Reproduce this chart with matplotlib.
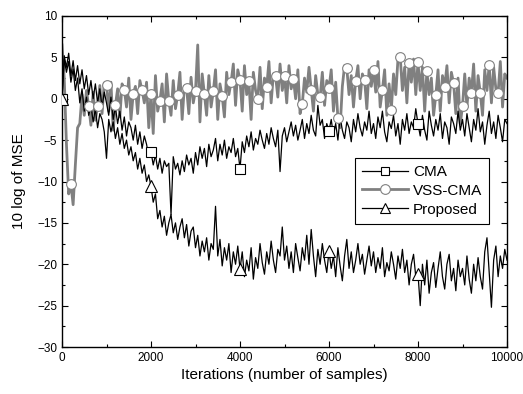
import numpy as np
import matplotlib
matplotlib.use("Agg")
import matplotlib.pyplot as plt
from matplotlib.ticker import MultipleLocator

plt.rcParams['font.family'] = ['Liberation Sans', 'DejaVu Sans']

step = 50
samples = np.arange(0, 10001, step)

vss_cma = [
    6.5, 2.5, -5.5, -11.5, -10.3, -12.8, -8.0, -3.5, -3.0, 0.5, -2.0, 1.0, -0.93, -3.2, 0.8, -2.6, -0.85, 1.6, -1.8, 1.9,
    1.7, -1.5, 2.0, -3.8, -0.8, 1.2, -2.2, 1.8, 1.09, -1.0, 2.5, -2.5, 0.57, 1.5, -1.8, 2.2, 1.0, -0.5, 2.0, -3.5,
    0.6, -4.2, 2.8, -1.5, -0.24, 1.8, -2.8, 3.0, -0.24, -2.0, 2.2, -1.2, 0.48, 3.2, -2.5, 1.5, 1.29, -1.8, 2.6, -0.5,
    0.97, 6.5, -2.8, 3.0, 0.57, -2.0, 2.8, -1.0, 0.88, 3.5, -2.5, 1.8, 0.28, -2.2, 3.2, 0.5, 2.0, 4.2, -0.8, 3.5,
    2.3, -1.5, 4.0, 0.5, 2.1, -2.5, 3.2, 1.0, 0.0, 3.8, -1.2, 2.5, 1.41, 4.5, -0.5, 3.0, 2.7, 0.2, 4.2, 1.0,
    2.78, -0.5, 4.0, 1.2, 2.42, 0.0, 3.5, -1.8, -0.6, 2.5, 0.8, 3.8, 1.09, -1.5, 2.8, 0.5, 0.16, 3.2, -0.8, 2.2,
    1.29, 3.5, -1.5, 2.0, -2.33, -3.5, 1.5, 4.0, 3.7, 0.5, 2.8, -1.0, 2.18, 4.0, 0.0, 3.0, 2.3, -1.2, 3.5, 1.5,
    3.5, 0.8, 4.5, -1.0, 1.09, 3.5, -2.0, 1.8, -1.33, 3.0, 0.5, 4.8, 5.1, 1.0, 3.8, -0.5, 4.3, 2.0, 4.8, 0.5,
    4.39, 1.0, 3.8, -1.5, 3.3, 0.5, 2.5, -2.0, 0.4, 3.5, -1.5, 2.8, 1.41, 4.0, -0.5, 3.2, 1.9, -1.8, 2.5, -3.0,
    -0.93, 3.0, -1.0, 2.5, 0.69, 4.2, -1.5, 2.8, 0.69, -2.0, 3.5, 1.0, 4.1, -0.5, 3.8, 1.2, 0.69, 4.5, -1.0, 3.0, 2.5,
]

cma = [
    0.0, 5.2, 3.8, 5.5, 2.8, 4.6, 2.2, 4.0, 1.8, 3.5, 1.2, 2.8, 0.5, 2.2, 0.0, 1.8, -0.5, 1.2, -1.0, 0.8,
    -0.5, -2.0, 0.2, -2.5, -1.0, -3.0, -1.5, -3.8, -2.2, -4.5, -2.8, -3.5, -5.0, -3.2, -5.5, -4.0, -6.0, -4.5, -5.5, -7.0,
    -6.4, -8.0, -6.8, -8.5, -7.2, -9.0, -7.5, -8.2, -7.8, -14.0, -7.0, -8.5, -7.8, -9.2, -7.5, -8.8, -6.8, -8.0, -7.2, -9.0,
    -6.5, -8.0, -5.8, -7.2, -6.0, -8.2, -5.5, -7.0, -6.2, -4.8, -7.5, -5.5, -6.8, -5.0, -7.2, -5.8, -6.5, -4.8, -7.0, -6.0,
    -8.5, -5.2, -6.5, -4.5, -5.8, -4.0, -6.2, -4.8, -5.5, -3.8, -5.0, -6.0, -4.2, -5.5, -3.5, -4.8, -5.8, -3.8, -8.8, -4.5,
    -3.5, -5.2, -4.0, -2.8, -4.5, -3.2, -5.0, -3.8, -2.5, -4.8, -3.0, -4.2, -2.0, -3.8, -4.5, -0.8, -3.2, -2.5, -4.8, -3.0,
    -3.87, -2.5, -4.5, -3.0, -5.0, -2.2, -3.8, -4.8, -2.8, -3.5, -5.2, -2.5, -4.0, -1.8, -3.5, -4.5, -2.8, -3.8, -1.5, -4.2,
    -3.0, -4.8, -2.2, -3.5, -1.5, -4.0, -5.2, -2.8, -3.6, -2.0, -4.5, -3.0, -5.5, -2.5, -3.8, -1.8, -4.2, -2.8, -3.5, -1.2,
    -3.06, -4.5, -2.0, -3.8, -5.0, -1.5, -3.2, -4.5, -2.5, -3.8, -1.8, -4.8, -2.8, -3.5, -5.5, -2.2, -3.0, -4.2, -1.5, -3.8,
    -2.5, -4.5, -1.8, -3.5, -5.2, -2.5, -3.8, -1.2, -4.0, -2.8, -5.5, -3.2, -1.5, -4.2, -2.8, -4.8, -2.0, -3.5, -5.2, -2.5, -3.0,
]

proposed = [
    0.0, 4.8, 3.2, 4.5, 2.0, 3.6, 1.0, 2.5, -0.5, 1.2, -1.5, 0.2, -2.0, -0.8, -2.8, -1.2, -3.5, -1.8, -2.5, -4.0,
    -7.2, -2.5, -4.0, -2.8, -4.8, -3.5, -5.5, -4.2, -6.0, -5.0, -6.8, -5.8, -7.5, -6.5, -8.5, -7.2, -9.0, -8.0, -10.0, -9.2,
    -10.6, -12.5, -11.5, -14.5, -13.5, -15.5, -14.2, -16.5, -15.0, -14.0, -16.2, -15.0, -17.0, -15.5, -14.5, -16.8, -15.2, -17.8, -16.0, -15.5,
    -18.0, -16.5, -19.0, -17.2, -18.5, -16.8, -19.5, -17.5, -18.2, -13.0, -19.0, -17.0, -20.2, -18.0, -19.5, -17.5, -21.0, -18.5, -20.0, -17.8,
    -20.6, -18.5, -21.5, -19.5, -20.8, -18.0, -21.8, -19.2, -20.5, -17.5, -19.8, -21.2, -18.5, -20.0, -17.2, -19.5, -21.0, -18.2, -19.0, -15.5,
    -19.5, -17.8, -20.5, -18.5, -21.0, -17.5, -19.2, -20.8, -18.0, -19.5, -16.5, -20.0, -15.8, -19.0, -21.5, -18.2, -20.0, -17.5, -19.5, -21.0,
    -18.4, -20.5, -19.0, -21.5, -18.0, -20.2, -22.0, -19.0, -17.0, -20.5, -18.5, -21.0, -19.5, -17.5, -20.0, -18.8, -21.2, -19.5, -17.8, -20.2,
    -18.5, -21.0, -19.2, -20.5, -18.0, -21.5, -19.8, -20.8, -18.5, -20.0, -21.8, -19.0, -20.5, -18.2, -21.0, -19.5, -22.5, -20.0, -18.8, -21.5,
    -21.2, -25.0, -20.0, -22.5, -19.5, -23.5, -21.0, -19.8, -22.8, -20.5, -18.5, -21.5, -23.0, -20.0, -18.8, -22.0, -20.5, -23.2, -19.5, -21.5,
    -20.5, -22.5, -19.0, -21.8, -23.5, -20.0, -22.0, -19.2, -21.5, -23.0, -18.5, -16.8, -21.0, -25.2, -19.5, -17.8, -21.5, -19.0, -20.5, -18.2, -19.5,
]

labels = ['CMA', 'VSS-CMA', 'Proposed']

# marker positions (indices)
mark_sq = [0, 40, 80, 120, 160]
mark_tri = [0, 40, 80, 120, 160]
mark_circ = [4] + list(range(12, 197, 4))

gray = '#808080'

fig = plt.figure(figsize=(5.23, 3.94), dpi=100)
ax = fig.add_axes([62/523, 1-347/394, 445/523, 331/394])

x = samples
ax.plot(x, vss_cma, color=gray, lw=2.0, zorder=2)
ax.plot(x, cma, color='black', lw=0.9, zorder=3)
ax.plot(x, proposed, color='black', lw=0.9, zorder=3)

ax.plot(x, vss_cma, ls='none', marker='o', ms=7, mfc='white', mec=gray, mew=0.8,
        markevery=mark_circ, zorder=4)
ax.plot(x, cma, ls='none', marker='s', ms=6.5, mfc='white', mec='black', mew=0.8,
        markevery=mark_sq, zorder=5)
ax.plot(x, proposed, ls='none', marker='^', ms=8, mfc='white', mec='black', mew=0.8,
        markevery=mark_tri, zorder=5)

h1, = ax.plot([], [], color='black', lw=0.9, marker='s', ms=6, mfc='white', mec='black', mew=0.8)
h2, = ax.plot([], [], color=gray, lw=2.0, marker='o', ms=7, mfc='white', mec=gray, mew=0.8)
h3, = ax.plot([], [], color='black', lw=0.9, marker='^', ms=7, mfc='white', mec='black', mew=0.8)
leg = ax.legend([h1, h2, h3], labels, loc='upper left', bbox_to_anchor=(0.658, 0.571),
                borderaxespad=0, fontsize=11, handlelength=3.0, handletextpad=0.35,
                labelspacing=0.32, borderpad=0.45, fancybox=False, framealpha=1,
                edgecolor='black')
leg.get_frame().set_linewidth(0.8)

ax.set_xlim(0, 10000)
ax.set_ylim(-30, 10)
ax.xaxis.set_major_locator(MultipleLocator(2000))
ax.xaxis.set_minor_locator(MultipleLocator(1000))
ax.yaxis.set_major_locator(MultipleLocator(5))
ax.yaxis.set_minor_locator(MultipleLocator(2.5))
ax.tick_params(which='both', direction='in', top=True, right=True, labelsize=8.5, width=0.8)
ax.tick_params(which='major', length=4)
ax.tick_params(which='minor', length=2.5)
for s in ax.spines.values():
    s.set_linewidth(1.0)

ax.set_xlabel('Iterations (number of samples)', fontsize=11, labelpad=3)
ax.set_ylabel('10 log of MSE', fontsize=11, labelpad=8)

fig.savefig('out.png', dpi=100)
